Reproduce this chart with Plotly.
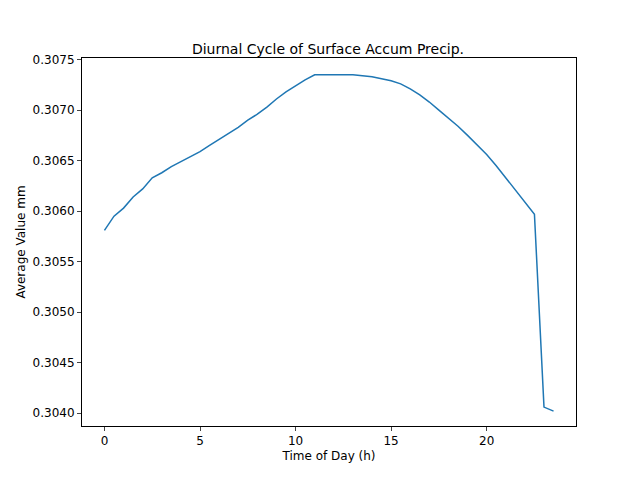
import plotly.graph_objects as go

hours = [i * 0.5 for i in range(48)]
precip = [
    0.30581, 0.30595, 0.30603, 0.30614, 0.30622, 0.30633, 0.30638, 0.30644,
    0.30649, 0.30654, 0.30659, 0.30665, 0.30671, 0.30677, 0.30683, 0.30690,
    0.30696, 0.30703, 0.30711, 0.30718, 0.30724, 0.30730, 0.30735, 0.30735,
    0.30735, 0.30735, 0.30735, 0.30734, 0.30733, 0.30731, 0.30729, 0.30726,
    0.30721, 0.30715, 0.30708, 0.30700, 0.30692, 0.30684, 0.30675, 0.30666,
    0.30656, 0.30645, 0.30633, 0.30621, 0.30609, 0.30597, 0.30406, 0.30402,
]

fig = go.Figure(go.Scatter(x=hours, y=precip, mode="lines",
                           line=dict(color="#1f77b4", width=1.5)))

axis = dict(showline=True, linecolor="black", linewidth=1, mirror=True,
            ticks="outside", ticklen=4, showgrid=False, zeroline=False,
            tickfont=dict(size=12, color="black"))
fig.update_layout(
    width=640, height=480,
    paper_bgcolor="white", plot_bgcolor="white",
    font=dict(family="DejaVu Sans", color="black"),
    margin=dict(l=72, r=72, t=50, b=62),
    title=dict(text="Diurnal Cycle of Surface Accum Precip.", x=0.5,
               xanchor="center", y=0.905, yanchor="bottom", font=dict(size=14)),
    showlegend=False,
)
fig.update_xaxes(**axis, range=[-1.175, 24.675], tickvals=[0, 5, 10, 15, 20],
                 title=dict(text="Time of Day (h)", font=dict(size=12), standoff=4))
fig.update_yaxes(**axis, range=[0.303873, 0.307516],
                 tickvals=[0.304 + 0.0005 * i for i in range(8)], tickformat=".4f",
                 title=dict(text="Average Value mm", font=dict(size=12), standoff=4))

fig.write_html("out.html")
